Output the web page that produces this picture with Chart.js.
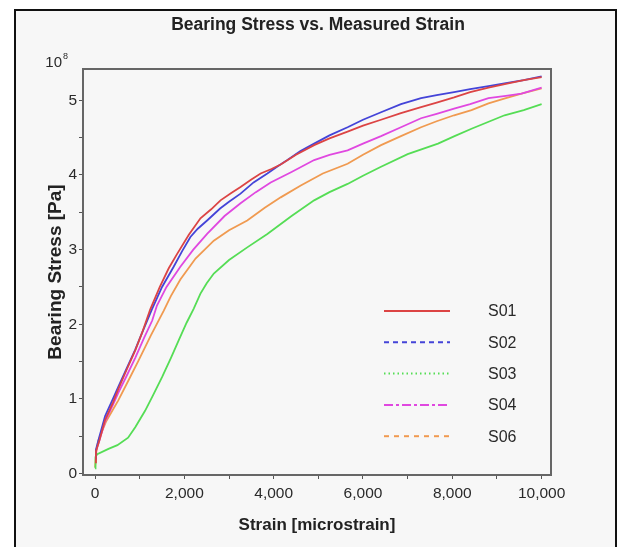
<!DOCTYPE html>
<html>
<head>
<meta charset="utf-8">
<script src="https://cdn.jsdelivr.net/npm/chart.js@4.4.1/dist/chart.umd.min.js"></script>
<style>
  html, body { margin: 0; padding: 0; background: #ffffff; }
  #wrap { width: 617px; height: 547px; }
</style>
</head>
<body>
<div id="wrap"><canvas id="grafico" width="617" height="547"></canvas></div>
<script>
// Dados (deformação em microstrain, tensão em 10^8 Pa)
const seriesNames = ['S01', 'S02', 'S03', 'S04', 'S06'];

const strainS01 = [0, 20, 100, 225, 400, 520, 700, 900, 1050, 1236, 1450, 1650, 1835, 2100, 2360, 2600, 2809, 3050, 3258, 3500, 3708, 3950, 4157, 4500, 4906, 5250, 5655, 6000, 6404, 6850, 7300, 7650, 8040, 8400, 8810, 9200, 9600, 10000];
const stressS01 = [0.15, 0.30, 0.45, 0.72, 0.95, 1.13, 1.38, 1.65, 1.88, 2.20, 2.50, 2.75, 2.94, 3.20, 3.42, 3.54, 3.66, 3.76, 3.84, 3.94, 4.02, 4.08, 4.14, 4.27, 4.40, 4.49, 4.58, 4.66, 4.74, 4.83, 4.91, 4.97, 5.04, 5.11, 5.17, 5.22, 5.27, 5.31];

const strainS02 = [0, 20, 100, 225, 400, 520, 700, 900, 1050, 1273, 1500, 1760, 1950, 2135, 2300, 2509, 2800, 3000, 3258, 3550, 3858, 4100, 4307, 4600, 4906, 5250, 5655, 6000, 6404, 6850, 7300, 7650, 8040, 8400, 8810, 9200, 9600, 10000];
const stressS02 = [0.20, 0.32, 0.50, 0.77, 1.00, 1.16, 1.40, 1.66, 1.88, 2.20, 2.50, 2.77, 2.98, 3.17, 3.28, 3.39, 3.55, 3.64, 3.75, 3.90, 4.02, 4.12, 4.20, 4.32, 4.42, 4.53, 4.64, 4.74, 4.84, 4.95, 5.03, 5.07, 5.11, 5.15, 5.19, 5.23, 5.27, 5.32];

const strainS03 = [0, 10, 50, 300, 500, 740, 900, 1120, 1300, 1500, 1700, 1870, 2050, 2210, 2360, 2500, 2659, 3000, 3408, 3858, 4400, 4906, 5250, 5655, 6000, 6404, 7000, 7680, 8050, 8430, 8800, 9170, 9600, 10000];
const stressS03 = [0.07, 0.22, 0.26, 0.33, 0.38, 0.48, 0.62, 0.84, 1.05, 1.29, 1.55, 1.78, 2.02, 2.21, 2.41, 2.55, 2.68, 2.86, 3.03, 3.21, 3.45, 3.66, 3.77, 3.88, 3.99, 4.11, 4.28, 4.42, 4.52, 4.62, 4.71, 4.80, 4.87, 4.95];

const strainS04 = [0, 20, 100, 225, 400, 520, 700, 900, 1100, 1280, 1386, 1600, 1910, 2200, 2509, 2900, 3258, 3600, 3933, 4400, 4906, 5250, 5655, 6000, 6404, 6850, 7300, 7650, 8040, 8400, 8810, 9200, 9550, 10000];
const stressS04 = [0.20, 0.30, 0.45, 0.70, 0.92, 1.08, 1.30, 1.55, 1.82, 2.05, 2.25, 2.50, 2.77, 3.00, 3.21, 3.45, 3.62, 3.77, 3.90, 4.04, 4.20, 4.27, 4.33, 4.42, 4.52, 4.64, 4.76, 4.82, 4.89, 4.95, 5.03, 5.06, 5.09, 5.17];

const strainS06 = [0, 30, 70, 250, 520, 750, 970, 1250, 1536, 1700, 1910, 2250, 2659, 3000, 3408, 3800, 4157, 4607, 5100, 5655, 6000, 6404, 6850, 7300, 7650, 8040, 8430, 8810, 9200, 9550, 10000];
const stressS06 = [0.08, 0.30, 0.44, 0.70, 0.98, 1.25, 1.51, 1.85, 2.18, 2.38, 2.60, 2.88, 3.12, 3.26, 3.39, 3.56, 3.70, 3.86, 4.02, 4.15, 4.27, 4.40, 4.52, 4.64, 4.72, 4.80, 4.87, 4.96, 5.03, 5.09, 5.16];

// Marcas dos eixos
const xTickValues = [0, 1000, 2000, 3000, 4000, 5000, 6000, 7000, 8000, 9000, 10000];
const yTickValues = [0, 0.5, 1, 1.5, 2, 2.5, 3, 3.5, 4, 4.5, 5];

// Cores e estilos das linhas
const cores = ['#dc4444', '#4444d8', '#55dd55', '#e048e0', '#f09a50'];
const tracos = [[], [5, 4], [1.5, 3], [9, 3, 3, 3], [5, 5]];

const fonteTexto = "'Liberation Sans', Arial, sans-serif";

function pares(xs, ys) {
    return xs.map((x, i) => ({ x: x, y: ys[i] }));
}

const todos = [
    pares(strainS01, stressS01),
    pares(strainS02, stressS02),
    pares(strainS03, stressS03),
    pares(strainS04, stressS04),
    pares(strainS06, stressS06)
];

// Fundo cinza claro e moldura da figura
const fundo = {
    id: 'fundo',
    beforeDraw(chart) {
        const ctx = chart.ctx;
        ctx.save();
        ctx.fillStyle = '#ffffff';
        ctx.fillRect(0, 0, chart.width, chart.height);
        ctx.fillStyle = '#f7f7f7';
        ctx.fillRect(15, 10, chart.width - 15, chart.height - 10);
        ctx.strokeStyle = '#111111';
        ctx.lineWidth = 2;
        ctx.beginPath();
        ctx.moveTo(15, chart.height);
        ctx.lineTo(15, 10);
        ctx.lineTo(616, 10);
        ctx.lineTo(616, chart.height);
        ctx.stroke();
        ctx.restore();
    }
};

// Caixa do gráfico, legenda interna e o "10^8"
const extras = {
    id: 'extras',
    afterDatasetsDraw(chart) {
        const ctx = chart.ctx;
        const area = chart.chartArea;
        ctx.save();
        ctx.strokeStyle = '#666666';
        ctx.lineWidth = 2;
        ctx.strokeRect(area.left, area.top, area.right - area.left, area.bottom - area.top);

        // legenda
        ctx.font = '16px ' + fonteTexto;
        ctx.textBaseline = 'middle';
        ctx.textAlign = 'left';
        chart.data.datasets.forEach((ds, i) => {
            const y = 311 + i * 31.3;
            ctx.strokeStyle = ds.borderColor;
            ctx.lineWidth = 2;
            ctx.setLineDash(tracos[i]);
            ctx.beginPath();
            ctx.moveTo(384, y);
            ctx.lineTo(450, y);
            ctx.stroke();
            ctx.setLineDash([]);
            ctx.fillStyle = '#2a2a2a';
            ctx.fillText(ds.label, 488, y + 1);
        });

        // multiplicador do eixo y
        ctx.fillStyle = '#2a2a2a';
        ctx.textAlign = 'right';
        ctx.font = '15px ' + fonteTexto;
        ctx.fillText('10', 62, 63);
        ctx.textAlign = 'left';
        ctx.font = '9px ' + fonteTexto;
        ctx.fillText('8', 63, 57);
        ctx.restore();
    }
};

new Chart(document.getElementById('grafico').getContext('2d'), {
    type: 'line',
    data: {
        datasets: todos.map((pts, i) => ({
            label: seriesNames[i],
            data: pts,
            borderColor: cores[i],
            backgroundColor: cores[i],
            borderWidth: 1.8,
            pointRadius: 0,
            tension: 0,
            fill: false
        }))
    },
    options: {
        responsive: false,
        animation: false,
        devicePixelRatio: 1,
        layout: { padding: { top: 0, left: 19, right: 0, bottom: 0 } },
        plugins: {
            legend: { display: false },
            tooltip: { enabled: false },
            title: {
                display: true,
                text: 'Bearing Stress vs. Measured Strain',
                color: '#222222',
                font: { family: fonteTexto, size: 17.5, weight: 'bold' },
                padding: { top: 15, bottom: 33 }
            }
        },
        scales: {
            x: {
                type: 'linear',
                min: -270,
                max: 10210,
                afterBuildTicks: (scale) => { scale.ticks = xTickValues.map(v => ({ value: v })); },
                afterFit: (scale) => { scale.height = 72; },
                border: { display: false },
                grid: { drawOnChartArea: false, drawTicks: true, tickLength: 4, tickColor: '#555555' },
                ticks: {
                    autoSkip: false,
                    maxRotation: 0,
                    padding: 5,
                    color: '#2a2a2a',
                    font: { family: fonteTexto, size: 15.5 },
                    callback: (v) => (v % 2000 === 0 ? v.toLocaleString('en-US') : '')
                },
                title: {
                    display: true,
                    text: 'Strain [microstrain]',
                    color: '#222222',
                    font: { family: fonteTexto, size: 17, weight: 'bold' },
                    padding: { top: 0, bottom: 11 }
                }
            },
            y: {
                type: 'linear',
                min: -0.02,
                max: 5.42,
                afterBuildTicks: (scale) => { scale.ticks = yTickValues.map(v => ({ value: v })); },
                afterFit: (scale) => { scale.width = 64; },
                border: { display: false },
                grid: { drawOnChartArea: false, drawTicks: true, tickLength: 4, tickColor: '#555555' },
                ticks: {
                    autoSkip: false,
                    padding: 2,
                    color: '#2a2a2a',
                    font: { family: fonteTexto, size: 15.5 },
                    callback: (v) => (Number.isInteger(v) ? String(v) : '')
                },
                title: {
                    display: true,
                    text: 'Bearing Stress [Pa]',
                    color: '#222222',
                    font: { family: fonteTexto, size: 19, weight: 'bold' },
                    padding: { top: 25, bottom: 0 }
                }
            },
            // eixo vazio à direita só para reservar a margem
            yMargem: {
                type: 'linear',
                position: 'right',
                afterFit: (scale) => { scale.width = 66; },
                border: { display: false },
                grid: { display: false },
                ticks: { display: false },
                title: { display: false }
            }
        }
    },
    plugins: [fundo, extras]
});
</script>
</body>
</html>
